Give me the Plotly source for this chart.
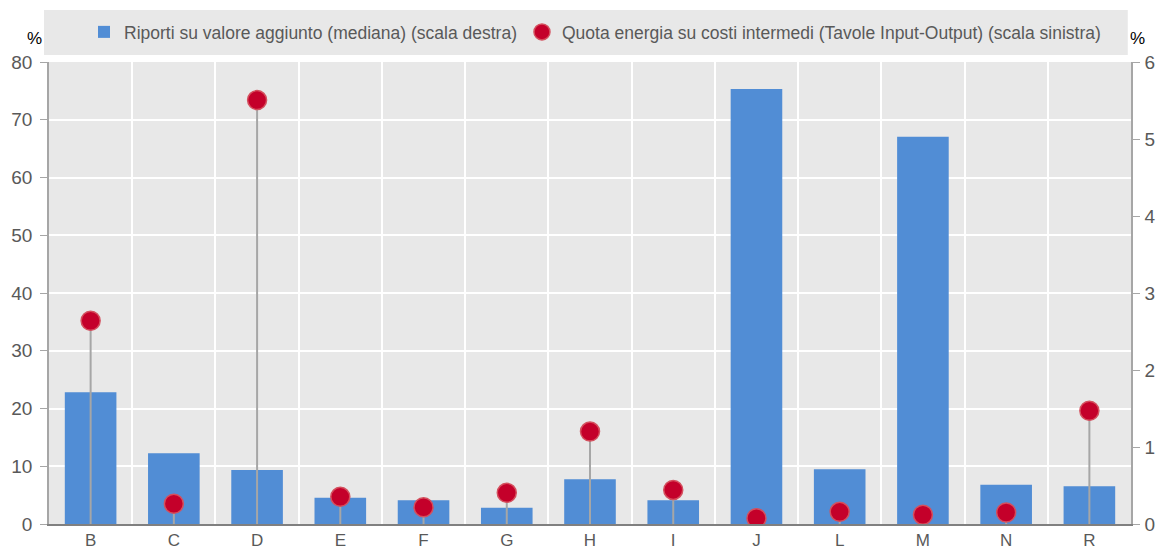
import plotly.graph_objects as go

categories = ['B', 'C', 'D', 'E', 'F', 'G', 'H', 'I', 'J', 'L', 'M', 'N', 'R']
# Riporti su valore aggiunto (mediana) - scala destra
riporti = [1.71, 0.92, 0.70, 0.34, 0.31, 0.21, 0.58, 0.31, 5.65, 0.71, 5.03, 0.51, 0.49]
# Quota energia su costi intermedi - scala sinistra
quota_energia = [35.2, 3.5, 73.4, 4.7, 2.9, 5.4, 16.0, 5.9, 1.0, 2.1, 1.6, 2.0, 19.6]

BAR_COLOR = '#518dd5'
DOT_COLOR = '#c4002a'
GREY_TXT = '#595959'
BG = '#e8e8e8'
FONT = 'Liberation Sans, Arial, sans-serif'

fig = go.Figure()

fig.add_trace(go.Bar(
    x=categories, y=riporti, yaxis='y',
    name='Riporti su valore aggiunto (mediana) (scala destra)',
    marker=dict(color=BAR_COLOR, line=dict(width=0)),
))

fig.add_trace(go.Scatter(
    x=categories, y=quota_energia, yaxis='y2', mode='markers',
    name='Quota energia su costi intermedi (Tavole Input-Output) (scala sinistra)',
    marker=dict(color=DOT_COLOR, size=19, line=dict(color='#d4505e', width=1.5)),
    error_y=dict(type='data', symmetric=False, array=[0] * len(quota_energia),
                 arrayminus=quota_energia, width=0, color='#a6a6a6', thickness=2),
))

# the page has an 8px body margin: keep the figure inside the window (no scrollbars)
fig.update_layout(
    width=1152, height=542,
    paper_bgcolor='white', plot_bgcolor=BG,
    font=dict(family=FONT, color=GREY_TXT, size=19),
    margin=dict(l=41, r=29, t=54, b=26, autoexpand=False),
    bargap=0.38,
    showlegend=True,
    legend=dict(orientation='h', x=587 / 1152, xanchor='center', xref='container',
                y=1 - 24 / 542, yanchor='middle', yref='container',
                bgcolor='rgba(0,0,0,0)', font=dict(size=17.5, color=GREY_TXT),
                itemwidth=30, tracegroupgap=0),
    xaxis=dict(type='category', range=[-0.5, len(categories) - 0.5],
               tickson='boundaries', showgrid=True, gridcolor='white',
               gridwidth=2, ticks='', ticklen=0, showline=True, linecolor='#808080',
               linewidth=1.5, tickfont=dict(size=17), ticklabelstandoff=0,
               automargin=False),
    yaxis=dict(side='right', range=[0, 6], dtick=1, showgrid=False, zeroline=False,
               showline=True, linecolor='#a6a6a6', linewidth=1.5, ticks='outside',
               ticklen=7, tickcolor='#a6a6a6', tickfont=dict(size=19),
               ticklabelstandoff=1, automargin=False),
    yaxis2=dict(side='left', overlaying='y', range=[0, 80], dtick=10, showgrid=True,
                gridcolor='white', gridwidth=2, zeroline=False, showline=True,
                linecolor='#a6a6a6', linewidth=1.5, ticks='outside', ticklen=7,
                tickcolor='#a6a6a6', tickfont=dict(size=19),
                ticklabelstandoff=4, automargin=False),
)

# legend background band
fig.add_shape(type='rect', xref='paper', yref='paper', x0=-0.0046, x1=0.997,
              y0=1.015, y1=1.1126, fillcolor=BG, line=dict(width=0), layer='below')

fig.add_annotation(text='%', xref='paper', yref='paper', x=-0.0222, y=1.076,
                   showarrow=False, font=dict(size=17, color='black'))
fig.add_annotation(text='%', xref='paper', yref='paper', x=1.0145, y=1.076,
                   showarrow=False, font=dict(size=17, color='black'))

fig.write_html('out.html')
